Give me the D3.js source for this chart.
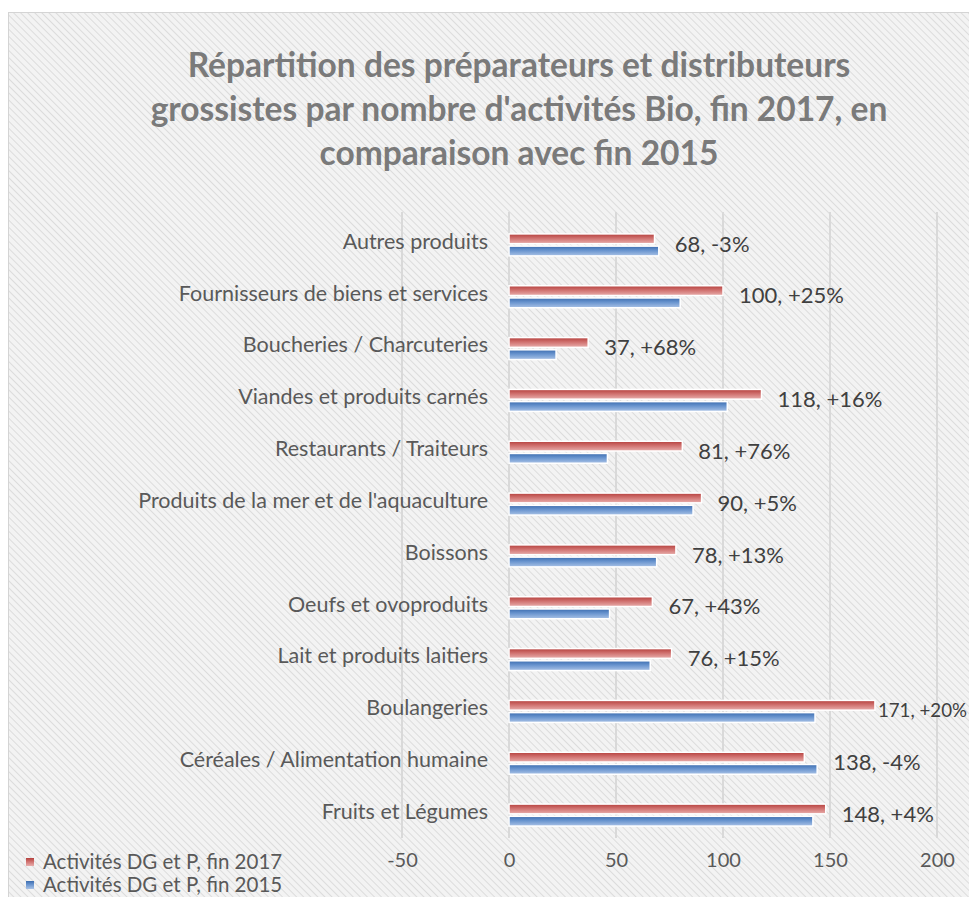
<!DOCTYPE html>
<html>
<head>
<meta charset="utf-8">
<script src="https://cdn.jsdelivr.net/npm/d3@7"></script>
<style>
  body { margin: 0; background: #fff; }
  svg { display: block; font-family: Lato, "Open Sans", sans-serif; }
</style>
</head>
<body>
<svg id="chart" width="969" height="897"></svg>
<script>
// categories, top to bottom as in the picture
const categories = [
  "Autres produits",
  "Fournisseurs de biens et services",
  "Boucheries / Charcuteries",
  "Viandes et produits carnés",
  "Restaurants / Traiteurs",
  "Produits de la mer et de l'aquaculture",
  "Boissons",
  "Oeufs et ovoproduits",
  "Lait et produits laitiers",
  "Boulangeries",
  "Céréales / Alimentation humaine",
  "Fruits et Légumes"
];
const values2017 = [68, 100, 37, 118, 81, 90, 78, 67, 76, 171, 138, 148];
const values2015 = [70, 80, 22, 102, 46, 86, 69, 47, 66, 143, 144, 142];
const changes = ["-3%", "+25%", "+68%", "+16%", "+76%", "+5%", "+13%", "+43%", "+15%", "+20%", "-4%", "+4%"];
const ticks = [-50, 0, 50, 100, 150, 200];
const seriesNames = ["Activités DG et P, fin 2017", "Activités DG et P, fin 2015"];
const titleLines = [
  "Répartition des préparateurs et distributeurs",
  "grossistes par nombre d'activités Bio, fin 2017, en",
  "comparaison avec fin 2015"
];

const rows = categories.map((c, i) => ({
  cat: c, v17: values2017[i], v15: values2015[i], chg: changes[i]
}));

const W = 969;
const svg = d3.select("#chart");
const defs = svg.append("defs");

// diagonal hatch background
const pat = defs.append("pattern")
  .attr("id", "hatch")
  .attr("patternUnits", "userSpaceOnUse")
  .attr("width", 5).attr("height", 5)
  .attr("patternTransform", "rotate(-45)");
pat.append("rect").attr("width", 5).attr("height", 5).attr("fill", "#f3f3f3");
pat.append("line").attr("x1", 0).attr("y1", 0).attr("x2", 0).attr("y2", 5)
  .attr("stroke", "#dcdcdc").attr("stroke-width", 2);

function grad(id, stops) {
  const g = defs.append("linearGradient").attr("id", id)
    .attr("x1", 0).attr("y1", 0).attr("x2", 0).attr("y2", 1);
  stops.forEach(s => g.append("stop").attr("offset", s[0]).attr("stop-color", s[1]));
}
grad("gRed", [["0%", "#b5403d"], ["45%", "#d0716f"], ["100%", "#e8aeac"]]);
grad("gBlue", [["0%", "#3c6db0"], ["45%", "#6a95cf"], ["100%", "#a9c2e6"]]);

svg.append("rect")
  .attr("x", 8.5).attr("y", 12.5).attr("width", 980).attr("height", 900)
  .attr("fill", "url(#hatch)").attr("stroke", "#d4d4d4");

// title
svg.append("g").selectAll("text")
  .data(titleLines)
  .join("text")
  .attr("x", 519)
  .attr("y", (d, i) => 77 + i * 44)
  .attr("text-anchor", "middle")
  .attr("font-size", 33.5)
  .attr("font-weight", "bold")
  .attr("fill", "#7a7a7a")
  .text(d => d);

const x = d3.scaleLinear().domain([-50, 200]).range([402, 937]);
const y = d3.scaleBand().domain(categories).range([219, 841]);
const inner = d3.scaleBand().domain(["2017", "2015"]).range([-11, 11]).paddingInner(0.2);

// gridlines
svg.append("g").selectAll("line")
  .data(ticks)
  .join("line")
  .attr("x1", d => x(d)).attr("x2", d => x(d))
  .attr("y1", 212).attr("y2", 838)
  .attr("stroke", "#d9d9d9").attr("stroke-width", 2);

// x axis tick labels
const xAxis = svg.append("g")
  .attr("transform", "translate(0,853)")
  .call(d3.axisBottom(x).tickValues(ticks).tickFormat(d => String(d)).tickSize(0).tickPadding(0));
xAxis.select(".domain").remove();
xAxis.selectAll("text")
  .attr("font-family", "Lato, sans-serif")
  .attr("font-size", 20)
  .attr("fill", "#595959");

// category labels
const yAxis = svg.append("g")
  .attr("transform", "translate(488,-3)")
  .call(d3.axisLeft(y).tickSize(0).tickPadding(0));
yAxis.select(".domain").remove();
yAxis.selectAll("text")
  .attr("font-family", "Lato, sans-serif")
  .attr("font-size", 21.5)
  .attr("fill", "#595959");

// bars
const groups = svg.append("g").selectAll("g")
  .data(rows)
  .join("g")
  .attr("transform", d => `translate(0,${y(d.cat) + y.bandwidth() / 2})`);

groups.append("rect")
  .attr("x", x(0))
  .attr("y", inner("2017"))
  .attr("width", d => x(d.v17) - x(0))
  .attr("height", inner.bandwidth())
  .attr("fill", "url(#gRed)")
  .attr("stroke", "#fff").attr("stroke-width", 1.5);

groups.append("rect")
  .attr("x", x(0))
  .attr("y", inner("2015"))
  .attr("width", d => x(d.v15) - x(0))
  .attr("height", inner.bandwidth())
  .attr("fill", "url(#gBlue)")
  .attr("stroke", "#fff").attr("stroke-width", 1.5);

// data labels; shrink the one that would run past the right edge
groups.append("text")
  .attr("y", -1)
  .attr("dy", "0.35em")
  .attr("font-size", 22)
  .attr("fill", "#404040")
  .text(d => `${d.v17}, ${d.chg}`)
  .each(function (d) {
    const el = d3.select(this);
    const w = this.getComputedTextLength();
    let start = x(Math.max(d.v17, d.v15)) + 16;
    if (start + w > W - 2) {
      start = Math.max(x(d.v17) + 3, W - 2 - w);
      const room = W - 2 - start;
      if (room < w) el.attr("font-size", 22 * room / w);
    }
    el.attr("x", start);
  });

// legend
const legend = svg.append("g").selectAll("g")
  .data(seriesNames)
  .join("g")
  .attr("transform", (d, i) => `translate(26,${862 + i * 23})`);
legend.append("rect")
  .attr("x", 0).attr("y", -4).attr("width", 8).attr("height", 8)
  .attr("fill", (d, i) => i === 0 ? "url(#gRed)" : "url(#gBlue)");
legend.append("text")
  .attr("x", 17).attr("dy", "0.35em")
  .attr("font-size", 20.5)
  .attr("fill", "#595959")
  .text(d => d);
</script>
</body>
</html>
